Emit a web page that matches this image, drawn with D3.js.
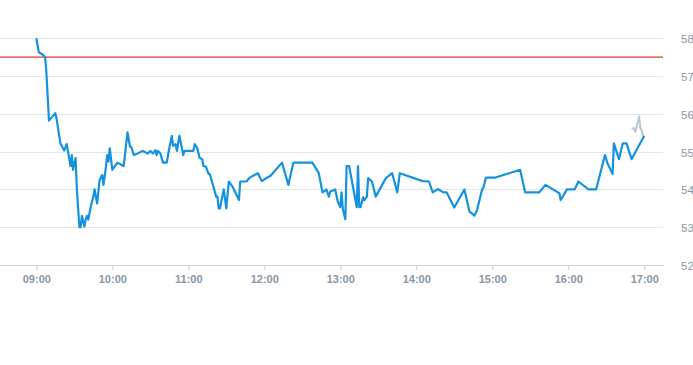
<!DOCTYPE html>
<html>
<head>
<meta charset="utf-8">
<script src="https://cdn.jsdelivr.net/npm/d3@7"></script>
<style>
  html, body { margin: 0; padding: 0; background: #fff; }
  svg { display: block; }
</style>
</head>
<body>
<svg id="chart" width="693" height="365"></svg>
<script>
// ---- data ----
const priceTimes = ["09:00","09:02","09:05","09:07","09:08","09:10","09:15","09:16","09:19","09:22","09:24","09:27","09:28","09:29","09:31","09:32","09:34","09:35","09:36","09:38","09:39","09:40","09:41","09:43","09:45","09:46","09:48","09:50","09:52","09:53","09:55","09:56","09:57","09:58","10:00","10:04","10:09","10:12","10:14","10:15","10:17","10:20","10:24","10:28","10:30","10:32","10:34","10:35","10:36","10:38","10:40","10:43","10:45","10:47","10:48","10:50","10:51","10:53","10:56","10:57","11:04","11:05","11:07","11:09","11:11","11:12","11:14","11:16","11:17","11:22","11:23","11:24","11:25","11:28","11:30","11:32","11:35","11:40","11:41","11:46","11:48","11:51","11:55","11:58","12:02","12:05","12:14","12:19","12:23","12:38","12:43","12:46","12:48","12:49","12:51","12:52","12:56","12:58","13:00","13:01","13:02","13:04","13:05","13:07","13:13","13:14","13:15","13:16","13:18","13:19","13:21","13:22","13:25","13:28","13:36","13:41","13:45","13:47","14:05","14:10","14:13","14:17","14:21","14:24","14:30","14:38","14:42","14:46","14:48","14:52","14:53","14:55","15:02","15:22","15:26","15:37","15:42","15:53","15:54","15:59","16:05","16:08","16:16","16:22","16:29","16:31","16:35","16:36","16:40","16:43","16:46","16:50","17:00"];
const priceValues = [58.0,57.63,57.57,57.5,57.07,55.82,56.02,55.88,55.22,55.03,55.2,54.62,54.91,54.52,54.83,54.03,53.0,53.0,53.3,53.02,53.21,53.3,53.2,53.55,53.81,54.0,53.63,54.25,54.38,54.12,54.6,54.91,54.74,55.09,54.52,54.71,54.62,55.51,55.13,55.12,54.91,54.95,55.02,54.95,55.02,54.95,55.04,54.91,55.02,54.95,54.71,54.71,55.09,55.42,55.15,55.2,55.02,55.42,54.91,55.02,55.02,55.2,55.1,54.83,54.8,54.62,54.6,54.41,54.41,53.81,53.81,53.5,53.5,54.0,53.5,54.21,54.07,53.72,54.21,54.21,54.3,54.36,54.43,54.22,54.31,54.36,54.71,54.12,54.71,54.71,54.43,53.92,53.97,54.0,53.81,53.94,54.0,53.68,53.53,53.92,53.48,53.21,54.62,54.62,53.53,54.62,53.53,53.53,53.79,53.72,53.81,54.3,54.21,53.81,54.3,54.43,53.92,54.43,54.22,54.21,53.92,54.01,53.93,53.92,53.52,54.0,53.41,53.31,53.46,54.0,54.05,54.31,54.31,54.52,53.92,53.92,54.12,53.9,53.72,54.0,54.0,54.21,54.0,54.0,54.91,54.69,54.41,55.22,54.8,55.22,55.22,54.8,55.42];
const ghostTimes = ["16:50","16:52","16:53","16:56","16:57","16:58","16:59"];
const ghostValues = [55.62,55.61,55.52,55.93,55.62,55.56,55.42];
const referenceValue = 57.5;
const yTicks = [52,53,54,55,56,57,58];
const xTickLabels = ["09:00","10:00","11:00","12:00","13:00","14:00","15:00","16:00","17:00"];

// ---- setup ----
const W = 693, H = 365;
const plot = { left: 0, right: 663, top: 38.3, bottom: 265 };
const day = (s) => { const [h, m, sec] = s.split(":").map(Number); return new Date(2020, 0, 2, h, m, sec || 0); };

const x = d3.scaleTime()
  .domain([day("08:31:20"), day("17:14:48")])
  .range([plot.left, plot.right]);
const y = d3.scaleLinear().domain([52, 58]).range([plot.bottom, plot.top]);

const svg = d3.select("#chart");

// gridlines
svg.append("g").selectAll("line").data(yTicks.filter(v => v !== 52)).join("line")
  .attr("x1", plot.left).attr("x2", plot.right)
  .attr("y1", d => Math.round(y(d)) + 0.5).attr("y2", d => Math.round(y(d)) + 0.5)
  .attr("stroke", "#e2e6ea").attr("stroke-width", 1);

// y labels (right)
svg.append("g").selectAll("text").data(yTicks).join("text")
  .attr("x", 681).attr("y", d => y(d) + 5)
  .attr("font-family", "Liberation Sans, Arial, sans-serif")
  .attr("font-size", 11.5).attr("fill", "#8a97a4")
  .text(d => d);

// x axis
const xAxis = d3.axisBottom(x)
  .tickValues(xTickLabels.map(day))
  .tickFormat(d3.timeFormat("%H:%M"))
  .tickSize(5).tickSizeOuter(0).tickPadding(5);
const gx = svg.append("g").attr("transform", `translate(0,${plot.bottom})`).call(xAxis);
gx.select(".domain").attr("stroke", "#c9d1d9");
gx.selectAll(".tick line").attr("stroke", "#c9d1d9");
gx.selectAll(".tick text")
  .attr("font-family", "Liberation Sans, Arial, sans-serif")
  .attr("font-size", 11).attr("font-weight", "bold").attr("fill", "#8796a5");

// reference line
svg.append("line")
  .attr("x1", plot.left).attr("x2", plot.right)
  .attr("y1", y(referenceValue)).attr("y2", y(referenceValue))
  .attr("stroke", "#dc3a2e").attr("stroke-width", 1.2);

const line = d3.line().x(d => x(d.t)).y(d => y(d.v));

// ghost series
const ghost = ghostTimes.map((t, i) => ({ t: day(t), v: ghostValues[i] }));
svg.append("path").datum(ghost)
  .attr("d", line).attr("fill", "none")
  .attr("stroke", "#b9c6d1").attr("stroke-width", 2).attr("stroke-linejoin", "round");

// price series
const price = priceTimes.map((t, i) => ({ t: day(t), v: priceValues[i] }));
svg.append("path").datum(price)
  .attr("d", line).attr("fill", "none")
  .attr("stroke", "#1592de").attr("stroke-width", 2.2).attr("stroke-linejoin", "round");
</script>
</body>
</html>
